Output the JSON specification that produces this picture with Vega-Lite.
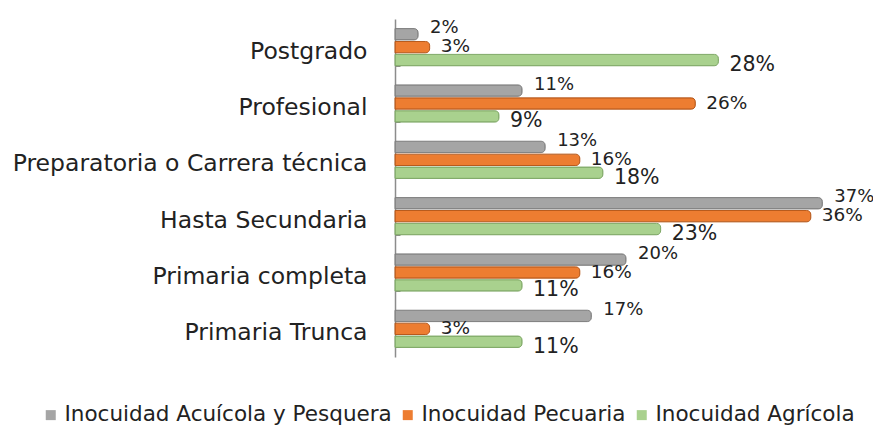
{
  "$schema": "https://vega.github.io/schema/vega-lite/v6.json",
  "autosize": "none",
  "width": 462,
  "height": 338,
  "padding": {"left": 395, "top": 19, "right": 16, "bottom": 69},
  "background": "white",
  "config": {"font": "DejaVu Sans", "view": {"stroke": null}},
  "data": {"values": [
    {"nivel": "Postgrado", "serie": "Inocuidad Acuícola y Pesquera", "v": 2},
    {"nivel": "Postgrado", "serie": "Inocuidad Pecuaria", "v": 3},
    {"nivel": "Postgrado", "serie": "Inocuidad Agrícola", "v": 28},
    {"nivel": "Profesional", "serie": "Inocuidad Acuícola y Pesquera", "v": 11},
    {"nivel": "Profesional", "serie": "Inocuidad Pecuaria", "v": 26},
    {"nivel": "Profesional", "serie": "Inocuidad Agrícola", "v": 9},
    {"nivel": "Preparatoria o Carrera técnica", "serie": "Inocuidad Acuícola y Pesquera", "v": 13},
    {"nivel": "Preparatoria o Carrera técnica", "serie": "Inocuidad Pecuaria", "v": 16},
    {"nivel": "Preparatoria o Carrera técnica", "serie": "Inocuidad Agrícola", "v": 18},
    {"nivel": "Hasta Secundaria", "serie": "Inocuidad Acuícola y Pesquera", "v": 37},
    {"nivel": "Hasta Secundaria", "serie": "Inocuidad Pecuaria", "v": 36},
    {"nivel": "Hasta Secundaria", "serie": "Inocuidad Agrícola", "v": 23},
    {"nivel": "Primaria completa", "serie": "Inocuidad Acuícola y Pesquera", "v": 20},
    {"nivel": "Primaria completa", "serie": "Inocuidad Pecuaria", "v": 16},
    {"nivel": "Primaria completa", "serie": "Inocuidad Agrícola", "v": 11},
    {"nivel": "Primaria Trunca", "serie": "Inocuidad Acuícola y Pesquera", "v": 17},
    {"nivel": "Primaria Trunca", "serie": "Inocuidad Pecuaria", "v": 3},
    {"nivel": "Primaria Trunca", "serie": "Inocuidad Agrícola", "v": 11}
  ]},
  "encoding": {
    "y": {
      "field": "nivel", "type": "nominal",
      "sort": ["Postgrado", "Profesional", "Preparatoria o Carrera técnica", "Hasta Secundaria", "Primaria completa", "Primaria Trunca"],
      "scale": {"paddingInner": 0.34, "paddingOuter": 0.17},
      "axis": {"title": null, "labelFontSize": 23.5, "labelColor": "#222222", "labelPadding": 33, "labelOffset": 4, "labelLimit": 0, "domainColor": "#8c8c8c", "domainWidth": 1.5, "tickColor": "#8c8c8c", "tickBand": "extent", "tickSize": -5}
    },
    "yOffset": {
      "field": "serie", "type": "nominal",
      "sort": ["Inocuidad Acuícola y Pesquera", "Inocuidad Pecuaria", "Inocuidad Agrícola"],
      "scale": {"paddingInner": 0.12}
    },
    "x": {"field": "v", "type": "quantitative", "scale": {"domain": [0, 40]}, "axis": null}
  },
  "layer": [
    {
      "mark": {"type": "bar", "cornerRadiusEnd": 4, "strokeWidth": 1},
      "encoding": {
        "color": {
          "field": "serie", "type": "nominal",
          "sort": ["Inocuidad Acuícola y Pesquera", "Inocuidad Pecuaria", "Inocuidad Agrícola"],
          "scale": {"domain": ["Inocuidad Acuícola y Pesquera", "Inocuidad Pecuaria", "Inocuidad Agrícola"], "range": ["#A5A5A5", "#ED7D31", "#A9D18E"]},
          "legend": {"title": null, "orient": "none", "direction": "horizontal", "legendX": -355, "legendY": 385, "symbolType": "square", "symbolSize": 100, "symbolStrokeWidth": 0, "labelFontSize": 21.5, "labelColor": "#222222", "labelLimit": 0, "columnPadding": 5, "labelOffset": 3}
        },
        "stroke": {
          "field": "serie", "type": "nominal",
          "scale": {"domain": ["Inocuidad Acuícola y Pesquera", "Inocuidad Pecuaria", "Inocuidad Agrícola"], "range": ["#7f7f7f", "#b85a1c", "#7fa866"]},
          "legend": null
        }
      }
    },
    {
      "transform": [{"filter": "datum.serie === 'Inocuidad Acuícola y Pesquera'"}, {"calculate": "datum.v + '%'", "as": "lbl"}],
      "mark": {"type": "text", "align": "left", "baseline": "middle", "dx": 12, "dy": -6, "fontSize": 18, "color": "#222222"},
      "encoding": {"text": {"field": "lbl", "type": "nominal"}}
    },
    {
      "transform": [{"filter": "datum.serie === 'Inocuidad Pecuaria'"}, {"calculate": "datum.v + '%'", "as": "lbl"}],
      "mark": {"type": "text", "align": "left", "baseline": "middle", "dx": 11, "dy": -1, "fontSize": 18.5, "color": "#222222"},
      "encoding": {"text": {"field": "lbl", "type": "nominal"}}
    },
    {
      "transform": [{"filter": "datum.serie === 'Inocuidad Agrícola'"}, {"calculate": "datum.v + '%'", "as": "lbl"}],
      "mark": {"type": "text", "align": "left", "baseline": "middle", "dx": 11, "dy": 5, "fontSize": 20.5, "color": "#222222"},
      "encoding": {"text": {"field": "lbl", "type": "nominal"}}
    }
  ]
}
